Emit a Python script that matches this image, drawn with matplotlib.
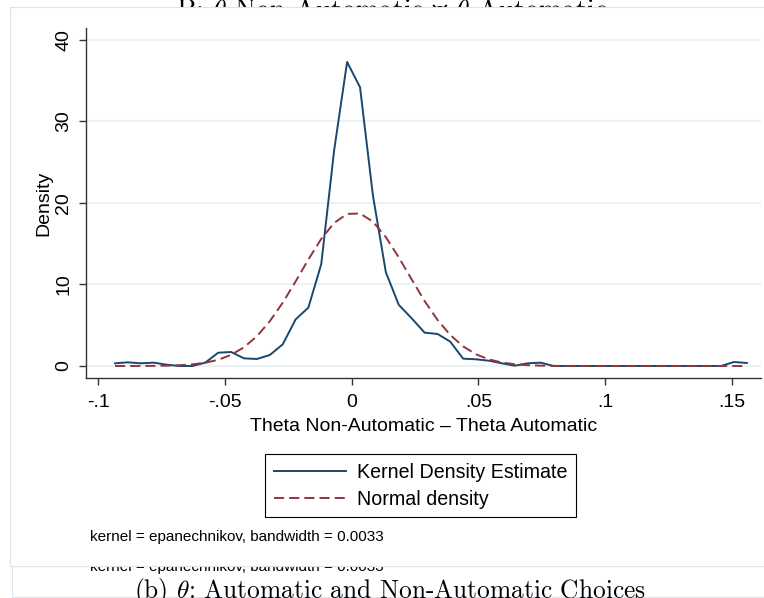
import matplotlib
matplotlib.use('Agg')
import matplotlib.pyplot as plt
from matplotlib.patches import Rectangle

W, H = 764, 598

# evaluation grid of the kernel density (50 points)
theta_grid = [
    -0.0934, -0.0883, -0.0832, -0.0781, -0.0730, -0.0680, -0.0629, -0.0578,
    -0.0527, -0.0476, -0.0425, -0.0374, -0.0323, -0.0272, -0.0221, -0.0171,
    -0.0120, -0.0069, -0.0018, 0.0033, 0.0084, 0.0135, 0.0186, 0.0237,
    0.0288, 0.0339, 0.0389, 0.0440, 0.0491, 0.0542, 0.0593, 0.0644,
    0.0695, 0.0746, 0.0797, 0.0848, 0.0898, 0.0949, 0.1000, 0.1051,
    0.1102, 0.1153, 0.1204, 0.1255, 0.1306, 0.1357, 0.1407, 0.1458,
    0.1509, 0.1560,
]
kernel_density = [
    0.33, 0.45, 0.33, 0.41, 0.16, 0.0, 0.0, 0.41,
    1.63, 1.72, 0.94, 0.86, 1.35, 2.66, 5.73, 7.16,
    12.5, 26.5, 37.3, 34.2, 20.9, 11.5, 7.5, 5.85,
    4.09, 3.93, 2.99, 0.90, 0.82, 0.65, 0.33, 0.04,
    0.33, 0.41, 0.0, 0.0, 0.0, 0.0, 0.0, 0.0,
    0.0, 0.0, 0.0, 0.0, 0.0, 0.0, 0.0, 0.0,
    0.49, 0.37,
]
normal_density = [
    0.001, 0.003, 0.007, 0.018, 0.043, 0.095, 0.20, 0.40,
    0.76, 1.36, 2.30, 3.65, 5.50, 7.77, 10.39, 13.06,
    15.60, 17.56, 18.66, 18.71, 17.71, 15.81, 13.33, 10.61,
    7.97, 5.65, 3.81, 2.41, 1.43, 0.81, 0.43, 0.21,
    0.10, 0.045, 0.019, 0.008, 0.003, 0.001, 0.0, 0.0,
    0.0, 0.0, 0.0, 0.0, 0.0, 0.0, 0.0, 0.0,
    0.0, 0.0,
]

x_ticks = [-0.1, -0.05, 0, 0.05, 0.1, 0.15]
x_tick_labels = ['-.1', '-.05', '0', '.05', '.1', '.15']
y_ticks = [0, 10, 20, 30, 40]
y_tick_labels = ['0', '10', '20', '30', '40']

NAVY = '#1a476f'
MAROON = '#90353b'
GRID = '#eaf2f3'
FRAME = '#dce5eb'
AXIS = '#333333'

plt.rcParams['font.family'] = ['Liberation Sans', 'DejaVu Sans']
plt.rcParams['mathtext.fontset'] = 'cm'

fig = plt.figure(figsize=(W / 100, H / 100), dpi=100)


def fx(px):
    return px / W


def fy(py):
    return 1 - py / H


# page pieces behind the graph (partly hidden, as in the screenshot)
fig.text(fx(392), fy(-1), 'B: $\\theta$ Non-Automatic – $\\theta$ Automatic',
         family=['cmr10', 'DejaVu Serif'], fontsize=20, ha='center', va='top',
         zorder=-10)
fig.add_artist(Rectangle((fx(12), fy(597)), fx(790 - 12), (597 - 566) / H,
                         facecolor='white', edgecolor=FRAME, lw=0.8,
                         transform=fig.transFigure, zorder=-9))
note = 'kernel = epanechnikov, bandwidth = 0.0033'
fig.text(fx(90), fy(571), note, fontsize=11, va='baseline', zorder=-8)
fig.text(fx(390), fy(598), '(b) $\\theta$: Automatic and Non-Automatic Choices',
         family='cmr10', fontsize=18.3, ha='center', va='baseline', zorder=-8)
fig.add_artist(Rectangle((fx(10), fy(566)), fx(790 - 10), (566 - 7) / H,
                         facecolor='white', edgecolor=FRAME, lw=0.8,
                         transform=fig.transFigure, zorder=-7))

ax = fig.add_axes([fx(86), fy(378), fx(761 - 86), (378 - 28) / H])
ax.patch.set_alpha(0)

ax.plot(theta_grid, kernel_density, color=NAVY, lw=1.4,
        label='Kernel Density Estimate', zorder=3)
ax.plot(theta_grid, normal_density, color=MAROON, lw=1.4,
        linestyle=(0, (5.2, 2.6)), label='Normal density', zorder=3)

ax.set_xlim(-0.10486, 0.16157)
ax.set_ylim(-1.472, 41.47)
ax.set_xticks(x_ticks)
ax.set_xticklabels(x_tick_labels)
ax.set_yticks(y_ticks)
ax.set_yticklabels(y_tick_labels, rotation=90, va='center')

ax.yaxis.grid(True, color=GRID, lw=1.5)
ax.set_axisbelow(True)
for side in ['top', 'right']:
    ax.spines[side].set_visible(False)
for side in ['left', 'bottom']:
    ax.spines[side].set_color(AXIS)
    ax.spines[side].set_linewidth(1.0)
ax.tick_params(direction='out', length=5, width=1, color=AXIS,
               labelsize=14, pad=5)
ax.tick_params(axis='x', pad=6.5)

ax.set_xlabel('Theta Non-Automatic – Theta Automatic', fontsize=14)
ax.xaxis.set_label_coords(0.5, -0.115)
ax.set_ylabel('Density', fontsize=14)
ax.yaxis.set_label_coords(-0.05, 0.5)

leg = fig.legend(loc='upper left', bbox_to_anchor=(fx(265), fy(454)),
                 borderaxespad=0, fontsize=14.1, fancybox=False,
                 edgecolor='black', framealpha=1, borderpad=0.45,
                 handlelength=3.7, handletextpad=0.55, labelspacing=0.4)
leg.get_frame().set_linewidth(0.8)

fig.text(fx(90), fy(537), note, fontsize=11, va='center')

fig.savefig('out.png', dpi=100)
